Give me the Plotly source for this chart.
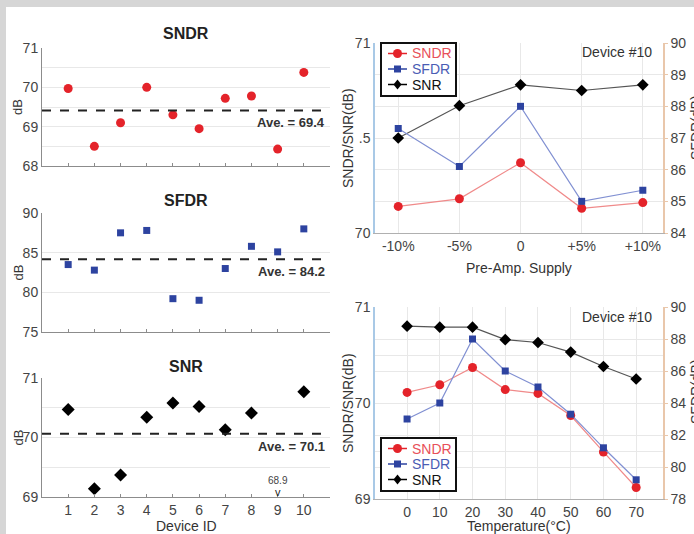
import numpy as np
import plotly.graph_objects as go

W, H = 694, 534
FONT = "Liberation Sans, Arial, sans-serif"

# ---------------- data ----------------
device_ids = [1, 2, 3, 4, 5, 6, 7, 8, 9, 10]
sndr_dev = [69.97, 68.5, 69.1, 70.0, 69.3, 68.95, 69.72, 69.78, 68.43, 70.38]
sfdr_dev = [83.5, 82.8, 87.5, 87.8, 79.2, 79.0, 83.0, 85.8, 85.1, 88.0]
snr_dev = [70.47, 69.14, 69.37, 70.34, 70.58, 70.52, 70.13, 70.41, 68.9, 70.77]

supply_labels = ["-10%", "-5%", "0", "+5%", "+10%"]
supply_idx = [0, 1, 2, 3, 4]
sndr_sup = [70.14, 70.18, 70.37, 70.13, 70.16]
sfdr_sup = [87.3, 86.1, 88.0, 85.0, 85.35]
snr_sup = [70.50, 70.67, 70.78, 70.75, 70.78]

temps = [0, 10, 20, 30, 40, 50, 60, 70]
sndr_temp = [70.11, 70.19, 70.37, 70.14, 70.10, 69.87, 69.49, 69.12]
sfdr_temp = [83.0, 84.0, 88.0, 86.0, 85.0, 83.3, 81.2, 79.2]
snr_temp = [70.80, 70.79, 70.79, 70.66, 70.63, 70.53, 70.38, 70.25]

series_names = ["SNDR", "SFDR", "SNR"]

# ---------------- helpers ----------------
def px(x):
    return x / W

def py(y):
    return 1 - y / H

RED = "#e4232a"
BLUE = "#2d43a0"
BLACK = "#000000"
GRID = "#e8e8e8"
AX = "#8c8c8c"
TICKC = "#444444"

LINE_COL = ["#f08a8a", "#8190d2", "#555555"]
MARK_COL = [RED, BLUE, BLACK]
TEXT_COL = ["#e8505a", "#4a5cb4", "#111111"]

def ann(x, y, text, size=14, color="#333333", angle=0, **kw):
    d = dict(xref="paper", yref="paper", x=px(x), y=py(y), xanchor="center", yanchor="middle",
             showarrow=False, text=text, textangle=angle,
             font=dict(size=size, color=color, family=FONT))
    d.update(kw)
    return d

fig = go.Figure()
annotations = []
shapes = []

# ---------- left column: device scatter ----------
left_dom = [px(42), px(330)]
panels = [
    ("x", "y", sndr_dev, dict(color=RED, size=9, symbol="circle"), [py(166), py(48)], [68, 71], [68, 69, 70, 71], 0.5, "SNDR", 33),
    ("x2", "y2", sfdr_dev, dict(color=BLUE, size=7, symbol="square"), [py(332), py(213)], [75, 90], [75, 80, 85, 90], None, "SFDR", 200),
    ("x3", "y3", snr_dev, dict(color=BLACK, size=10, symbol="diamond"), [py(497), py(378)], [69, 71], [69, 70, 71], 0.5, "SNR", 366),
]

for i, (xa, ya, vals, mk, ydom, yr, ytv, minor, title, ty) in enumerate(panels):
    fig.add_trace(go.Scatter(x=device_ids, y=vals, mode="markers", marker=mk,
                             xaxis=xa, yaxis=ya, showlegend=False))
    n = "" if i == 0 else str(i + 1)
    xkey, ykey = "xaxis" + n, "yaxis" + n
    fig.update_layout(**{
        xkey: dict(domain=left_dom, anchor=ya, range=[0, 11], showgrid=False, zeroline=False,
                   showline=True, linecolor=AX, linewidth=1, ticks="inside", ticklen=3,
                   tickcolor=AX, tickvals=device_ids, showticklabels=(i == 2), automargin=False,
                   tickfont=dict(size=14, color=TICKC, family=FONT)),
        ykey: dict(domain=ydom, anchor=xa, range=yr, tickvals=ytv, showgrid=True, gridcolor=GRID,
                   zeroline=False, showline=True, linecolor=AX, linewidth=1, ticks="", automargin=False,
                   tickfont=dict(size=14, color=TICKC, family=FONT),
                   minor=dict(dtick=minor, showgrid=True, gridcolor=GRID) if minor else dict(showgrid=False)),
    })
    avg = float(np.mean(vals))
    shapes.append(dict(type="line", xref=xa + " domain", yref=ya, x0=0, x1=1, y0=avg, y1=avg,
                       line=dict(color="#222222", width=2, dash="dash")))
    annotations.append(dict(xref=xa + " domain", yref=ya, x=0.99, y=avg, xanchor="right", yanchor="top",
                            yshift=-3, showarrow=False, text="<b>Ave. = %.1f</b>" % avg,
                            font=dict(size=13, color="#333333", family=FONT)))
    annotations.append(ann(186, ty, "<b>%s</b>" % title, size=16, color="#222222"))
    annotations.append(ann(18, H * (1 - (ydom[0] + ydom[1]) / 2), "dB", size=13, angle=-90))

# off-scale SNR value for device 9
annotations.append(dict(xref="x3", yref="paper", x=device_ids[8], y=py(480), showarrow=False,
                        xanchor="center", yanchor="middle",
                        text="%.1f" % snr_dev[8], font=dict(size=10, color="#444444", family=FONT)))
annotations.append(dict(xref="x3", yref="paper", x=device_ids[8], y=py(492), showarrow=False,
                        xanchor="center", yanchor="middle",
                        text="v", font=dict(size=11, color="#222222", family=FONT)))
annotations.append(ann(186, 526, "Device ID"))

# ---------- right column ----------
right_dom = [px(375), px(663)]
LBLUE = "#a9c9e6"
TAN = "#e9c7ab"
SYMS = ["circle", "square", "diamond"]
SIZES = [9, 7, 9]

for j, (vals, ya) in enumerate(zip([sndr_sup, sfdr_sup, snr_sup], ["y4", "y5", "y4"])):
    fig.add_trace(go.Scatter(x=supply_idx, y=vals, mode="lines+markers", name=series_names[j],
                             line=dict(color=LINE_COL[j], width=1.2),
                             marker=dict(color=MARK_COL[j], size=SIZES[j], symbol=SYMS[j]),
                             xaxis="x4", yaxis=ya, showlegend=False))
for j, (vals, ya) in enumerate(zip([sndr_temp, sfdr_temp, snr_temp], ["y6", "y7", "y6"])):
    fig.add_trace(go.Scatter(x=temps, y=vals, mode="lines+markers", name=series_names[j],
                             line=dict(color=LINE_COL[j], width=1.2),
                             marker=dict(color=MARK_COL[j], size=SIZES[j], symbol=SYMS[j]),
                             xaxis="x5", yaxis=ya, showlegend=False))

tf = dict(size=14, color=TICKC, family=FONT)
top_dom = [py(233), py(43)]
bot_dom = [py(499), py(307)]

fig.update_layout(
    xaxis4=dict(domain=right_dom, anchor="y4", range=[-0.38, 4.33], tickvals=supply_idx, ticktext=supply_labels,
                showgrid=True, gridcolor=GRID, zeroline=False, showline=True, linecolor="#b0b0b0",
                ticks="", tickfont=tf, automargin=False),
    yaxis4=dict(domain=top_dom, anchor="x4", range=[70, 71], tickvals=[70, 70.5, 71], ticktext=["70", ".5", "71"],
                showgrid=True, gridcolor=GRID, zeroline=False, showline=True, linecolor=LBLUE, linewidth=1.5,
                ticks="", tickfont=tf, automargin=False),
    yaxis5=dict(overlaying="y4", anchor="x4", side="right", range=[84, 90], dtick=1,
                showgrid=True, gridcolor=GRID, zeroline=False, showline=True, linecolor=TAN, linewidth=1.5,
                ticks="outside", ticklen=3, tickcolor=TAN, tickfont=tf, automargin=False),
    xaxis5=dict(domain=right_dom, anchor="y6", range=[-9.8, 78.2], tickvals=temps,
                showgrid=True, gridcolor=GRID, zeroline=False, showline=True, linecolor="#b0b0b0",
                ticks="", tickfont=tf, automargin=False),
    yaxis6=dict(domain=bot_dom, anchor="x5", range=[69, 71], tickvals=[69, 70, 71],
                showgrid=True, gridcolor=GRID, zeroline=False, showline=True, linecolor=LBLUE, linewidth=1.5,
                ticks="", tickfont=tf, automargin=False, minor=dict(dtick=0.5, showgrid=True, gridcolor=GRID)),
    yaxis7=dict(overlaying="y6", anchor="x5", side="right", range=[78, 90], dtick=2,
                showgrid=True, gridcolor=GRID, zeroline=False, showline=True, linecolor=TAN, linewidth=1.5,
                ticks="outside", ticklen=3, tickcolor=TAN, tickfont=tf, automargin=False),
)

# ---------- custom legend boxes ----------
def legend_box(x0, y0):
    w, h = 75, 53
    shapes.append(dict(type="rect", xref="paper", yref="paper", x0=px(x0), x1=px(x0 + w),
                       y0=py(y0 + h), y1=py(y0), fillcolor="white", line=dict(color="#111111", width=2),
                       layer="above"))
    for k in range(3):
        yc = y0 + 10.5 + 15.5 * k
        xl0, xl1, xm = x0 + 7, x0 + 26, x0 + 16.5
        shapes.append(dict(type="line", xref="paper", yref="paper", x0=px(xl0), x1=px(xl1),
                           y0=py(yc), y1=py(yc), line=dict(color=MARK_COL[k], width=1.5), layer="above"))
        if k == 0:
            r = 4.5
            shapes.append(dict(type="circle", xref="paper", yref="paper", x0=px(xm - r), x1=px(xm + r),
                               y0=py(yc + r), y1=py(yc - r), fillcolor=MARK_COL[k],
                               line=dict(width=0), layer="above"))
        elif k == 1:
            r = 3.5
            shapes.append(dict(type="rect", xref="paper", yref="paper", x0=px(xm - r), x1=px(xm + r),
                               y0=py(yc + r), y1=py(yc - r), fillcolor=MARK_COL[k],
                               line=dict(width=0), layer="above"))
        else:
            r = 5
            path = "M %f %f L %f %f L %f %f L %f %f Z" % (
                px(xm), py(yc - r), px(xm + r * 0.8), py(yc), px(xm), py(yc + r), px(xm - r * 0.8), py(yc))
            shapes.append(dict(type="path", xref="paper", yref="paper", path=path, fillcolor=MARK_COL[k],
                               line=dict(width=0), layer="above"))
        annotations.append(dict(xref="paper", yref="paper", x=px(x0 + 29), y=py(yc), xanchor="left",
                                yanchor="middle", showarrow=False, text=series_names[k],
                                font=dict(size=14, color=TEXT_COL[k], family=FONT)))

legend_box(381, 43)
legend_box(381, 438)

for ycen in [(43 + 233) / 2, (307 + 499) / 2]:
    annotations.append(ann(348, ycen, "SNDR/SNR(dB)", angle=-90))
for ycen in [128, 392]:
    annotations.append(ann(696, ycen, "SFDR(dB)", angle=-90))
for yy in [52, 317]:
    annotations.append(ann(617, yy, "Device #10"))
annotations.append(ann(519, 268, "Pre-Amp. Supply"))
annotations.append(ann(519, 526, "Temperature(°C)"))

# grey frame strips
shapes.append(dict(type="rect", xref="paper", yref="paper", x0=0, x1=1, y0=py(7), y1=1,
                   fillcolor="#d6d6d6", line=dict(width=0), layer="below"))
shapes.append(dict(type="rect", xref="paper", yref="paper", x0=0, x1=px(6), y0=0, y1=1,
                   fillcolor="#d6d6d6", line=dict(width=0), layer="below"))

fig.update_layout(
    width=W, height=H, margin=dict(l=0, r=0, t=0, b=0, autoexpand=False),
    paper_bgcolor="white", plot_bgcolor="white", showlegend=False,
    font=dict(family=FONT, color="#333333"),
    annotations=annotations, shapes=shapes,
)

fig.write_html("out.html", config={"displayModeBar": False},
               post_script="document.body.style.margin='0';document.body.style.overflow='hidden';")
